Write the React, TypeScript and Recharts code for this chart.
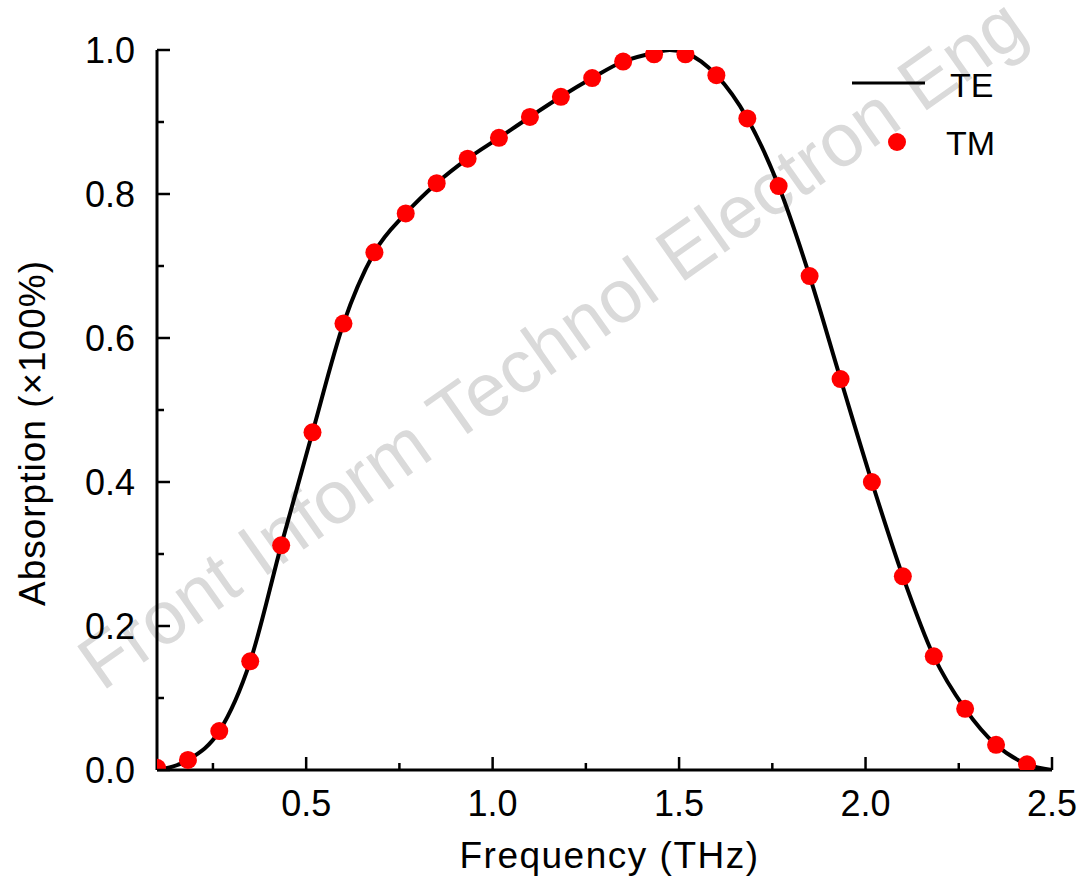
import React from "react"
import { ComposedChart, Line, Scatter, XAxis, YAxis, Label } from "recharts"

// TM markers (simulated points)
const tmFreq = [
  0.1, 0.183, 0.267, 0.35, 0.433, 0.517, 0.6, 0.683, 0.767, 0.85, 0.933, 1.017, 1.1, 1.183, 1.267,
  1.35, 1.433, 1.517, 1.6, 1.683, 1.767, 1.85, 1.933, 2.017, 2.1, 2.183, 2.267, 2.35, 2.433,
]
const tmAbs = [
  0.003, 0.014, 0.054, 0.151, 0.312, 0.469, 0.62, 0.719, 0.773, 0.815, 0.849, 0.878, 0.907, 0.935, 0.961,
  0.984, 0.994, 0.994, 0.965, 0.905, 0.811, 0.686, 0.543, 0.4, 0.269, 0.158, 0.085, 0.035, 0.008,
]

// TE curve
const teFreq = [
  0.1, 0.183, 0.267, 0.35, 0.433, 0.517, 0.6, 0.683, 0.767, 0.85, 0.933, 1.017, 1.1, 1.183, 1.267,
  1.35, 1.433, 1.475, 1.517, 1.6, 1.683, 1.767, 1.85, 1.933, 2.017, 2.1, 2.183, 2.267, 2.35, 2.433, 2.5,
]
const teAbs = [
  0.0, 0.014, 0.054, 0.151, 0.312, 0.469, 0.62, 0.719, 0.773, 0.815, 0.849, 0.878, 0.907, 0.935, 0.961,
  0.984, 0.996, 1.0, 0.996, 0.965, 0.905, 0.811, 0.686, 0.543, 0.4, 0.269, 0.158, 0.085, 0.035, 0.008, 0.0,
]

const xTicks = [0.25, 0.5, 0.75, 1.0, 1.25, 1.5, 1.75, 2.0, 2.25, 2.5]
const xMajor = [0.5, 1.0, 1.5, 2.0, 2.5]
const yTicks = [0, 0.1, 0.2, 0.3, 0.4, 0.5, 0.6, 0.7, 0.8, 0.9, 1.0]
const yMajor = [0, 0.2, 0.4, 0.6, 0.8, 1.0]

const teData = teFreq.map((f, i) => ({ f, a: teAbs[i] }))
const tmData = tmFreq.map((f, i) => ({ f, a: tmAbs[i] }))

const FONT = "'Liberation Sans', Arial, sans-serif"

const BottomTick = ({ x, y, payload }: any) => {
  const major = xMajor.includes(payload.value)
  return (
    <g>
      <line x1={x} x2={x} y1={y} y2={y - (major ? 13 : 7)} stroke="#000" strokeWidth={2.5} />
      {major && (
        <text x={x} y={y + 46} textAnchor="middle" fontSize={36} fontFamily={FONT} fill="#000">
          {payload.value.toFixed(1)}
        </text>
      )}
    </g>
  )
}

const TopTick = ({ x, y, payload }: any) => {
  const major = xMajor.includes(payload.value)
  return <line x1={x} x2={x} y1={y} y2={y + (major ? 13 : 7)} stroke="#000" strokeWidth={2.5} />
}

const LeftTick = ({ x, y, payload }: any) => {
  const major = yMajor.includes(payload.value)
  return (
    <g>
      <line x1={x} x2={x + (major ? 13 : 7)} y1={y} y2={y} stroke="#000" strokeWidth={2.5} />
      {major && (
        <text x={x - 22} y={y + 13} textAnchor="end" fontSize={36} fontFamily={FONT} fill="#000">
          {payload.value.toFixed(1)}
        </text>
      )}
    </g>
  )
}

const RightTick = ({ x, y, payload }: any) => {
  const major = yMajor.includes(payload.value)
  return <line x1={x} x2={x - (major ? 13 : 7)} y1={y} y2={y} stroke="#000" strokeWidth={2.5} />
}

export default function App() {
  return (
    <div style={{ position: "relative", width: 1087, height: 879 }}>
      <style>{`body{margin:0}`}</style>
      <svg width={1087} height={879} style={{ position: "absolute", left: 0, top: 0 }}>
        <text
          x={102}
          y={692}
          transform="rotate(-35.2 102 692)"
          fontSize={75}
          fontFamily={FONT}
          fill="#dadada"
        >
          Front Inform Technol Electron Eng
        </text>
        {/* legend */}
        <line x1={852} x2={925} y1={83} y2={83} stroke="#000" strokeWidth={3} />
        <text x={950} y={97} fontSize={34} fontFamily={FONT} fill="#000">TE</text>
        <circle cx={897} cy={142} r={9} fill="#ff0000" />
        <text x={946} y={155} fontSize={34} fontFamily={FONT} fill="#000">TM</text>
      </svg>
      <div style={{ position: "absolute", left: 0, top: 0 }}>
        <ComposedChart width={1087} height={879} margin={{ top: 50, right: 35, bottom: 0, left: 0 }}>
          <XAxis
            type="number"
            dataKey="f"
            domain={[0.1, 2.5]}
            allowDataOverflow
            ticks={xTicks}
            interval={0}
            tick={<BottomTick />}
            tickLine={false}
            tickSize={0}
            tickMargin={0}
            height={109}
            axisLine={{ stroke: "#000", strokeWidth: 3 }}
          >
            <Label
              content={(props: any) => {
                const vb = props.viewBox
                return (
                  <text x={vb.x + vb.width / 2 + 5} y={vb.y + 98} textAnchor="middle" fontSize={37} letterSpacing={1.5} fontFamily={FONT} fill="#000">
                    Frequency (THz)
                  </text>
                )
              }}
            />
          </XAxis>
          <XAxis
            xAxisId="top"
            orientation="top"
            type="number"
            dataKey="f"
            domain={[0.1, 2.5]}
            allowDataOverflow
            ticks={xTicks}
            interval={0}
            tick={<TopTick />}
            tickLine={false}
            tickSize={0}
            tickMargin={0}
            height={0}
            axisLine={{ stroke: "#000", strokeWidth: 3 }}
          />
          <YAxis
            type="number"
            domain={[0, 1]}
            allowDataOverflow
            ticks={yTicks}
            interval={0}
            tick={<LeftTick />}
            tickLine={false}
            tickSize={0}
            tickMargin={0}
            width={157}
            axisLine={{ stroke: "#000", strokeWidth: 3 }}
          >
            <Label
              content={(props: any) => {
                const vb = props.viewBox
                const cy = vb.y + vb.height / 2 + 23
                return (
                  <text x={45} y={cy} transform={`rotate(-90 45 ${cy})`} textAnchor="middle" fontSize={37} letterSpacing={1} fontFamily={FONT} fill="#000">
                    Absorption (×100%)
                  </text>
                )
              }}
            />
          </YAxis>
          <YAxis
            yAxisId="right"
            orientation="right"
            type="number"
            domain={[0, 1]}
            allowDataOverflow
            ticks={yTicks}
            interval={0}
            tick={<RightTick />}
            tickLine={false}
            tickSize={0}
            tickMargin={0}
            width={0}
            axisLine={{ stroke: "#000", strokeWidth: 3 }}
          />
          <Line
            data={teData}
            dataKey="a"
            name="TE"
            type="monotone"
            stroke="#000"
            strokeWidth={4}
            dot={false}
            isAnimationActive={false}
          />
          <Scatter
            data={tmData}
            dataKey="a"
            name="TM"
            fill="#ff0000"
            isAnimationActive={false}
            shape={(p: any) => <circle cx={p.cx} cy={p.cy} r={9} fill="#ff0000" />}
          />
        </ComposedChart>
      </div>
    </div>
  )
}
